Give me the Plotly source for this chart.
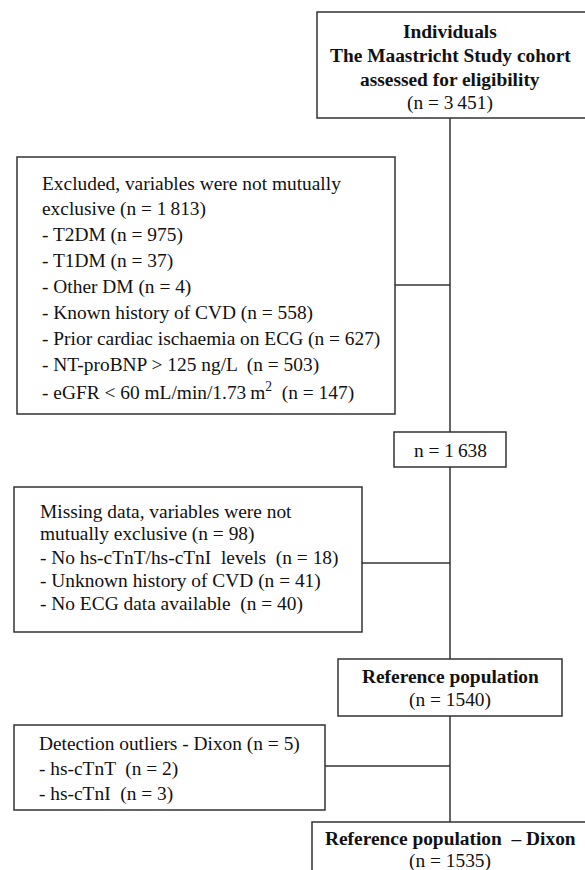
import plotly.graph_objects as go

# ---- data ----
total_n = "3\u2009451"
excluded_total = "1\u2009813"
excluded_labels = ["T2DM", "T1DM", "Other DM", "Known history of CVD",
                   "Prior cardiac ischaemia on ECG", "NT-proBNP > 125 ng/L",
                   "eGFR < 60 mL/min/1.73\u2009m<sup>2</sup>"]
excluded_n = [975, 37, 4, 558, 627, 503, 147]
after_exclusion = "1\u2009638"
missing_total = 98
missing_labels = ["No hs-cTnT/hs-cTnI  levels", "Unknown history of CVD", "No ECG data available"]
missing_n = [18, 41, 40]
reference_n = 1540
dixon_total = 5
dixon_labels = ["hs-cTnT", "hs-cTnI"]
dixon_n = [2, 3]
final_n = 1535

W, H = 585, 870
FONT = "Liberation Serif"
FS = 19.4
LC = "#333333"
LW = 1.5

fig = go.Figure()
shapes = []
annotations = []


def rect(x0, y0, x1, y1):
    shapes.append(dict(type="rect", x0=x0, y0=y0, x1=x1, y1=y1,
                       line=dict(color=LC, width=LW), fillcolor="rgba(0,0,0,0)"))


def line(x0, y0, x1, y1):
    shapes.append(dict(type="line", x0=x0, y0=y0, x1=x1, y1=y1,
                       line=dict(color=LC, width=LW)))


def text(x, y, s, anchor="left", bold=False):
    if bold:
        s = "<b>" + s + "</b>"
    annotations.append(dict(x=x, y=y, text=s, showarrow=False, xanchor=anchor,
                            yanchor="middle", align=anchor,
                            font=dict(family=FONT, size=FS, color="#111111")))


CX = 450
# main vertical line
line(CX, 118, CX, 432)
line(CX, 467, CX, 659)
line(CX, 716, CX, 822)

# Box 1
rect(317, 12, 592, 118)
text(CX, 31, "Individuals", "center", True)
text(CX, 55, "The Maastricht Study cohort", "center", True)
text(CX, 79, "assessed for eligibility", "center", True)
text(CX, 103, f"(n = {total_n})", "center")

# Excluded box
rect(17, 157, 395, 414)
line(395, 285, CX, 285)
ex_lines = ["Excluded, variables were not mutually",
            f"exclusive (n = {excluded_total})"] + \
           [f"- {l} (n = {n})" if i < 5 else f"- {l}  (n = {n})"
            for i, (l, n) in enumerate(zip(excluded_labels, excluded_n))]
for i, s in enumerate(ex_lines):
    text(40, 183 + i * 26.0, s)

# n = 1638 box
rect(394, 432, 506, 467)
text(CX, 450, f"n = {after_exclusion}", "center")

# Missing box
rect(14, 487, 362, 632)
line(362, 563, CX, 563)
mi_lines = ["Missing data, variables were not",
            f"mutually exclusive (n = {missing_total})"] + \
           [f"- {l}  (n = {n})" if i != 1 else f"- {l} (n = {n})"
            for i, (l, n) in enumerate(zip(missing_labels, missing_n))]
for i, s in enumerate(mi_lines):
    text(38, 511 + i * 23.3, s)

# Reference population box
rect(338, 659, 562, 716)
text(CX, 676, "Reference population", "center", True)
text(CX, 700, f"(n = {reference_n})", "center")

# Dixon box
rect(14, 725, 325, 810)
line(325, 766, CX, 766)
dx_lines = [f"Detection outliers - Dixon (n = {dixon_total})"] + \
           [f"- {l}  (n = {n})" for l, n in zip(dixon_labels, dixon_n)]
for i, s in enumerate(dx_lines):
    text(37, 744 + i * 25, s)

# Final box
rect(312, 822, 592, 892)
text(CX, 838, "Reference population  \u2013 Dixon", "center", True)
text(CX, 861, f"(n = {final_n})", "center")

fig.update_layout(
    width=W, height=H, margin=dict(l=0, r=0, t=0, b=0),
    paper_bgcolor="white", plot_bgcolor="white",
    xaxis=dict(range=[0, W], visible=False, fixedrange=True),
    yaxis=dict(range=[H, 0], visible=False, fixedrange=True),
    shapes=shapes, annotations=annotations, showlegend=False,
)
fig.write_html("out.html", config={"displayModeBar": False},
               post_script="document.body.style.margin='0px';document.body.style.overflow='hidden';")
